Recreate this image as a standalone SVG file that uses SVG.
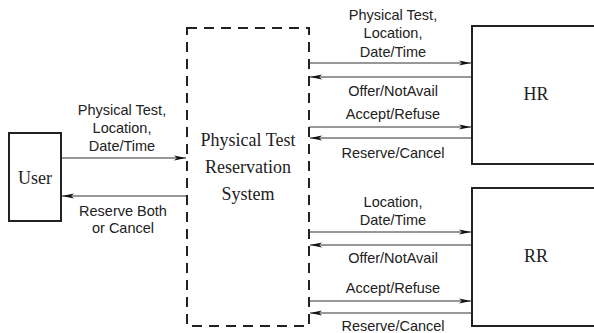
<svg xmlns="http://www.w3.org/2000/svg" width="594" height="333" viewBox="0 0 594 333">
<style>
.box{fill:#fff;stroke:#222;stroke-width:2}
.dash{fill:none;stroke:#222;stroke-width:2;stroke-dasharray:10,7}
.serif{font-family:"Liberation Serif",serif;font-size:18px;fill:#222;text-anchor:middle}
.lbl{font-family:"Liberation Sans",sans-serif;font-size:14.5px;fill:#222;text-anchor:middle}
.ln{stroke:#333;stroke-width:1.2;fill:none}
.r{marker-end:url(#ah)}
</style>
<defs>
<marker id="ah" markerWidth="12" markerHeight="6" refX="12" refY="3" orient="auto" markerUnits="userSpaceOnUse">
<path d="M0,0.5 L12,3 L0,5.5 L3,3 Z" fill="#111"/>
</marker>
</defs>
<rect width="594" height="333" fill="#fff"/>
<g id="user">
<rect class="box" x="9" y="133" width="52" height="88"/>
<text class="serif" x="35" y="184">User</text>
</g>
<g id="system">
<rect class="dash" x="187" y="28" width="122" height="298"/>
<text class="serif" x="248" y="146">Physical Test</text>
<text class="serif" x="248" y="173">Reservation</text>
<text class="serif" x="248" y="200">System</text>
</g>
<g id="hr">
<rect class="box" x="472" y="26" width="130" height="138"/>
<text class="serif" x="536" y="100">HR</text>
</g>
<g id="rr">
<rect class="box" x="472" y="188" width="130" height="138"/>
<text class="serif" x="536" y="262">RR</text>
</g>
<g id="connectors">
<line class="ln r" x1="61" y1="158" x2="186" y2="158"/>
<line class="ln r" x1="186" y1="196" x2="62" y2="196"/>
<line class="ln r" x1="309" y1="63" x2="471" y2="63"/>
<line class="ln r" x1="471" y1="77" x2="310" y2="77"/>
<line class="ln r" x1="309" y1="127" x2="471" y2="127"/>
<line class="ln r" x1="471" y1="138" x2="310" y2="138"/>
<line class="ln r" x1="309" y1="232" x2="471" y2="232"/>
<line class="ln r" x1="471" y1="245" x2="310" y2="245"/>
<line class="ln r" x1="309" y1="301" x2="471" y2="301"/>
<line class="ln r" x1="471" y1="313" x2="310" y2="313"/>
</g>
<g id="labels">
<text class="lbl" x="122" y="115">Physical Test,</text>
<text class="lbl" x="122" y="133">Location,</text>
<text class="lbl" x="122" y="151">Date/Time</text>
<text class="lbl" x="123" y="216">Reserve Both</text>
<text class="lbl" x="123" y="233">or Cancel</text>
<text class="lbl" x="393" y="20">Physical Test,</text>
<text class="lbl" x="393" y="38">Location,</text>
<text class="lbl" x="393" y="57">Date/Time</text>
<text class="lbl" x="393" y="96">Offer/NotAvail</text>
<text class="lbl" x="393" y="119">Accept/Refuse</text>
<text class="lbl" x="393" y="158">Reserve/Cancel</text>
<text class="lbl" x="393" y="207">Location,</text>
<text class="lbl" x="393" y="225">Date/Time</text>
<text class="lbl" x="393" y="263">Offer/NotAvail</text>
<text class="lbl" x="393" y="293">Accept/Refuse</text>
<text class="lbl" x="393" y="331">Reserve/Cancel</text>
</g>
</svg>
